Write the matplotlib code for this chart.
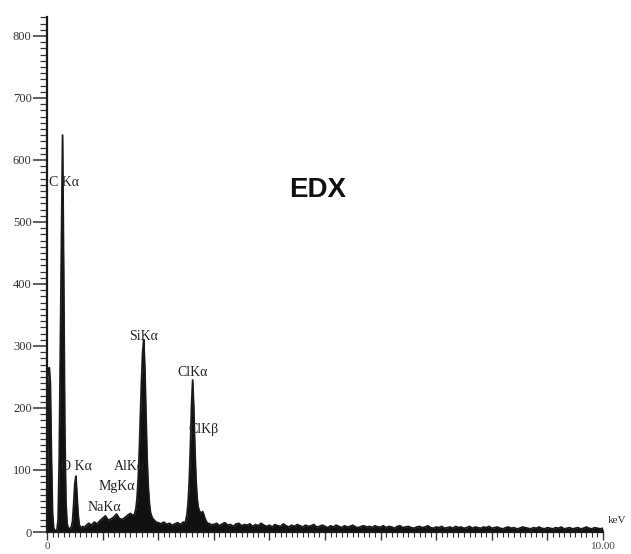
import numpy as np
import matplotlib
matplotlib.use("Agg")
import matplotlib.pyplot as plt
from matplotlib.ticker import MultipleLocator, FixedLocator, FixedFormatter

# Spectrum segments: (start keV, channel step keV, counts per channel)
seg_low_start, seg_low_step = 0.00, 0.02
seg_low_counts = [0, 150, 265, 240, 120, 30, 6, 3, 2, 4, 20, 120, 300, 470, 640,
                  420, 170, 50, 14, 7, 5, 6, 9, 18, 45, 78, 90, 60, 28, 12, 8, 6, 9, 7]

seg_namg_start, seg_namg_step = 0.70, 0.05
seg_namg_counts = [10, 14, 11, 16, 13, 18, 22, 26, 19, 21, 24, 29, 22, 20, 23, 27, 30, 26]

seg_si_start, seg_si_step = 1.58, 0.02
seg_si_counts = [30, 38, 55, 85, 130, 190, 245, 290, 310, 265, 190, 120, 75, 48, 32,
                 26, 22, 20, 18, 16]

seg_mid_start, seg_mid_step = 2.00, 0.05
seg_mid_counts = [15, 13, 16, 12, 14, 11, 13, 15, 12, 16]

seg_cl_start, seg_cl_step = 2.48, 0.02
seg_cl_counts = [14, 20, 30, 50, 85, 140, 205, 245, 200, 135, 85, 55, 40, 34, 32, 30,
                 33, 28, 22, 18, 15, 13, 14, 11, 12]

seg_high_start, seg_high_step = 3.00, 0.05
seg_high_counts = [
    12, 14, 10, 13, 15, 11, 12, 9, 13, 14, 10, 12, 11, 13, 9, 12, 10, 14, 11, 9,
    11, 8, 12, 10, 9, 13, 10, 8, 11, 9, 12, 10, 8, 11, 9, 10, 12, 8, 9, 11,
    9, 7, 10, 8, 11, 9, 7, 10, 8, 9, 11, 8, 7, 9, 10, 8, 9, 7, 10, 8,
    8, 10, 7, 9, 8, 6, 9, 10, 7, 8, 9, 7, 6, 8, 9, 7, 8, 10, 7, 6,
    8, 7, 9, 6, 7, 8, 6, 9, 7, 8, 6, 7, 9, 6, 8, 7, 6, 8, 7, 9,
    6, 7, 8, 6, 5, 7, 8, 6, 7, 5, 6, 8, 7, 6, 5, 7, 6, 8, 6, 5,
    7, 6, 5, 7, 6, 8, 5, 6, 7, 5, 6, 7, 5, 6, 8, 6, 5, 7, 6, 5, 6]

segments = [
    (seg_low_start, seg_low_step, seg_low_counts),
    (seg_namg_start, seg_namg_step, seg_namg_counts),
    (seg_si_start, seg_si_step, seg_si_counts),
    (seg_mid_start, seg_mid_step, seg_mid_counts),
    (seg_cl_start, seg_cl_step, seg_cl_counts),
    (seg_high_start, seg_high_step, seg_high_counts),
]

energy = []
counts = []
for start, step, vals in segments:
    energy.extend(start + step * np.arange(len(vals)))
    counts.extend(vals)
energy = np.array(energy)
counts = np.array(counts, dtype=float)

# Peak labels: text, x (keV), y (counts)
peak_labels = ["C K\u03b1", "O K\u03b1", "NaK\u03b1", "MgK\u03b1", "AlK\u03b1",
               "SiK\u03b1", "ClK\u03b1", "ClK\u03b2"]
peak_label_x = [0.04, 0.26, 0.72, 0.93, 1.20, 1.47, 2.34, 2.55]
peak_label_y = [563, 105, 40, 73, 106, 315, 258, 165]

y_ticks = [0, 100, 200, 300, 400, 500, 600, 700, 800]
x_tick_labels = {0: "0", 10: "10.00"}

fig = plt.figure(figsize=(6.31, 5.54), dpi=100)
ax = fig.add_axes([0.0745, 0.0397, 0.8811, 0.929])

ax.fill_between(energy, counts, 0, color="#111111", lw=0)
ax.plot(energy, counts, color="#1a1a1a", lw=1.3)

ax.set_xlim(0, 10)
ax.set_ylim(0, 830)

for s in ("top", "right"):
    ax.spines[s].set_visible(False)
for s in ("left", "bottom"):
    ax.spines[s].set_linewidth(1.6)
    ax.spines[s].set_color("#1a1a1a")

serif = "Liberation Serif"
ax.yaxis.set_major_locator(FixedLocator(y_ticks))
ax.yaxis.set_minor_locator(MultipleLocator(10))
ax.set_yticklabels([str(v) for v in y_ticks], fontfamily=serif, fontsize=9,
                   color="#333333")
ax.tick_params(axis="y", which="major", length=10, width=1.1, pad=1, color="#333333")
ax.tick_params(axis="y", which="minor", length=5, width=0.9, color="#333333")

xt = list(range(0, 11))
ax.xaxis.set_major_locator(FixedLocator(xt))
ax.xaxis.set_major_formatter(FixedFormatter([x_tick_labels.get(v, "") for v in xt]))
ax.xaxis.set_minor_locator(MultipleLocator(0.1))
for lab in ax.get_xticklabels():
    lab.set_fontfamily(serif)
    lab.set_fontsize(8)
    lab.set_color("#444444")
ax.tick_params(axis="x", which="major", length=6, width=1.0, pad=1, color="#333333")
ax.tick_params(axis="x", which="minor", length=3.5, width=0.8, color="#333333")

for t, x, y in zip(peak_labels, peak_label_x, peak_label_y):
    ax.text(x, y, t, fontfamily=serif, fontsize=10, color="#222222",
            ha="left", va="center")

ax.text(4.87, 552, "EDX", fontfamily="Liberation Sans", fontweight="bold",
        fontsize=20, color="#111111", ha="center", va="center")
ax.text(10.09, 19, "keV", fontfamily=serif, fontsize=8, color="#333333",
        ha="left", va="center", clip_on=False)

fig.savefig("out.png", dpi=100)
